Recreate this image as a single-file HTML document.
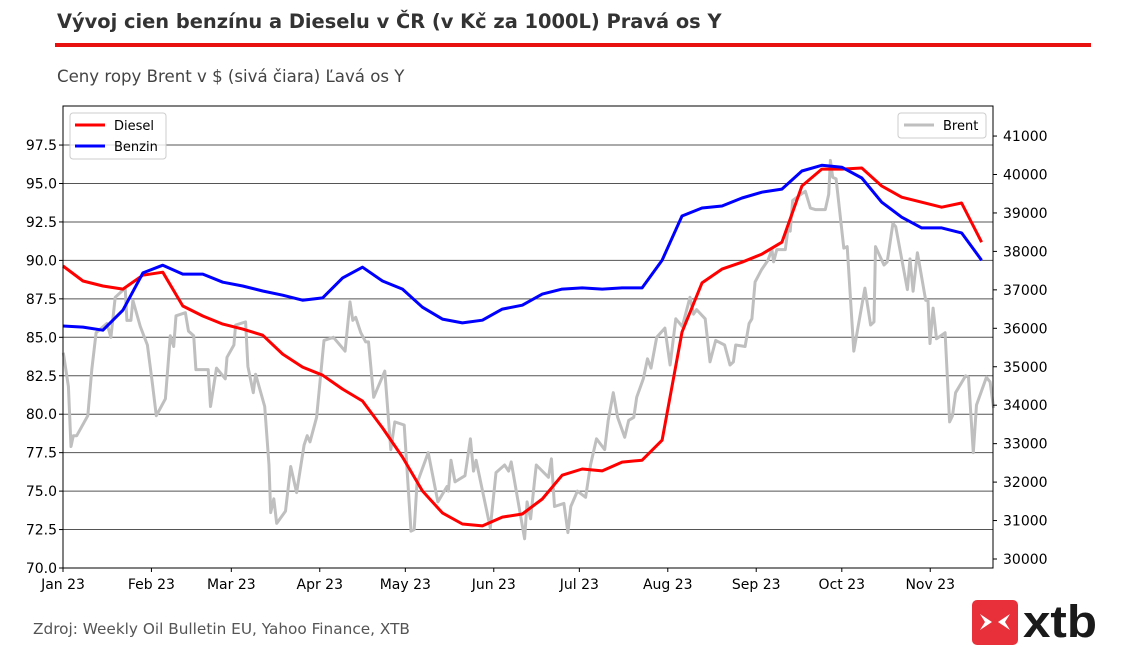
<!DOCTYPE html>
<html><head><meta charset="utf-8"><style>
body{margin:0;background:#fff;width:1125px;height:665px;overflow:hidden;font-family:"DejaVu Sans","Liberation Sans",sans-serif}
</style></head><body>
<svg width="1125" height="665" xmlns="http://www.w3.org/2000/svg" font-family="DejaVu Sans, Liberation Sans, sans-serif">
<text x="57" y="28" font-size="19.4" font-weight="bold" fill="#333">Vývoj cien benzínu a Dieselu v ČR (v Kč za 1000L) Pravá os Y</text>
<rect x="55" y="43" width="1036" height="4" fill="#e8110f"/>
<text x="57" y="82" font-size="16.6" fill="#444">Ceny ropy Brent v $ (sivá čiara) Ľavá os Y</text>
<g id="grid"></g>
<g id="series"></g>
<rect x="63" y="106" width="930" height="462" fill="none" stroke="#000" stroke-width="1"/>
<g id="axes"></g>
<g>
<rect x="70" y="113" width="96" height="46" rx="3" fill="#fff" fill-opacity="0.8" stroke="#ccc"/>
<line x1="75" y1="125" x2="105" y2="125" stroke="#f00" stroke-width="3"/>
<text x="114" y="130" font-size="13">Diesel</text>
<line x1="75" y1="146" x2="105" y2="146" stroke="#00f" stroke-width="3"/>
<text x="114" y="151" font-size="13">Benzin</text>
</g>
<g>
<rect x="898" y="113" width="88" height="25" rx="3" fill="#fff" fill-opacity="0.8" stroke="#ccc"/>
<line x1="904" y1="125" x2="934" y2="125" stroke="#bfbfbf" stroke-width="3"/>
<text x="943" y="130" font-size="13">Brent</text>
</g>
<text x="33" y="634" font-size="15.3" fill="#555">Zdroj: Weekly Oil Bulletin EU, Yahoo Finance, XTB</text>
<g>
<rect x="972" y="600" width="46" height="45" rx="5" fill="#e8303a"/>
<path d="M980 614 L992 622 L980 630 L985 622 Z M1010 614 L998 622 L1010 630 L1005 622 Z" fill="#fff"/>
<text x="1023" y="637" font-size="45" font-weight="bold" fill="#1a1a1a" font-family="Liberation Sans, sans-serif" textLength="74" lengthAdjust="spacingAndGlyphs">xtb</text>
</g>
</svg>
<script>
const monthLabels=["Jan 23","Feb 23","Mar 23","Apr 23","May 23","Jun 23","Jul 23","Aug 23","Sep 23","Oct 23","Nov 23"];
const monthDays=[0,31,59,90,120,151,181,212,243,273,304];
const leftTicks=[70,72.5,75,77.5,80,82.5,85,87.5,90,92.5,95,97.5];
const rightTicks=[30000,31000,32000,33000,34000,35000,36000,37000,38000,39000,40000,41000];
const dieselVals=[37620,37230,37100,37020,37380,37460,36580,36320,36110,35980,35820,35330,34990,34780,34420,34110,33410,32650,31770,31200,30910,30860,31090,31170,31560,32180,32340,32290,32520,32570,33090,35900,37180,37540,37720,37930,38240,39700,40140,40140,40170,39700,39410,39280,39150,39260,38240];
const benzinVals=[36060,36030,35950,36470,37440,37640,37410,37410,37200,37100,36970,36860,36730,36790,37310,37590,37230,37020,36550,36240,36140,36210,36500,36600,36890,37020,37050,37020,37050,37050,37770,38920,39130,39180,39390,39540,39620,40090,40240,40190,39910,39280,38890,38610,38610,38480,37770];
const brentDays=[0.1,1.9,2.8,3.6,4.8,8.7,10.1,11.6,15.4,16.8,18.3,21.8,22.4,23.8,24.5,27.1,29.6,31.2,32.7,35.9,37.6,38.8,39.6,42.9,44.0,45.8,46.6,50.9,51.7,53.8,56.9,57.5,59.9,60.5,64.0,64.8,66.7,67.5,70.7,72.2,72.8,73.9,74.9,78.0,79.8,81.9,84.5,85.6,86.6,88.9,91.5,94.8,98.9,100.6,101.6,102.6,104.4,106.1,107.1,108.9,112.8,114.9,116.3,119.6,122.0,123.1,124.1,128.0,131.4,134.6,135.1,136.0,137.4,140.9,142.8,143.9,144.8,149.8,151.8,154.8,156.2,157.1,161.8,162.7,163.9,165.3,165.9,170.2,171.2,172.3,175.6,177.0,178.0,180.3,183.2,184.9,187.0,189.9,191.1,192.9,194.4,196.9,198.3,200.1,201.1,203.4,204.9,206.1,208.1,211.0,212.8,214.8,217.1,219.8,221.0,222.1,225.1,226.8,228.8,231.9,233.8,235.0,235.8,239.1,240.5,241.5,242.6,244.9,247.1,248.5,249.1,250.2,253.2,254.1,254.9,255.8,260.2,262.0,263.7,267.2,268.4,269.0,269.8,271.0,273.7,274.9,277.2,281.1,283.1,284.3,284.8,287.8,288.9,290.9,291.9,296.0,296.9,298.0,299.5,302.4,303.2,303.9,305.0,306.2,309.2,310.8,311.8,312.9,316.4,317.4,319.1,320.2,323.7,325.0,326.2];
const brentVals=[84.0,81.8,77.9,78.6,78.6,79.9,82.9,85.3,85.9,85.0,87.6,88.2,86.1,86.1,87.4,85.7,84.5,82.2,79.9,81.0,85.1,84.4,86.4,86.6,85.4,85.1,82.9,82.9,80.5,83.0,82.3,83.7,84.5,85.8,86.0,83.1,81.4,82.6,80.5,76.7,73.6,74.5,72.9,73.7,76.6,74.9,78.0,78.6,78.2,79.8,84.8,85.0,84.1,87.3,86.1,86.3,85.3,84.7,84.7,81.1,82.8,77.7,79.5,79.3,72.4,72.5,75.5,77.5,74.3,75.3,75.0,77.0,75.6,76.0,78.4,76.3,77.0,72.6,76.2,76.7,76.3,76.9,71.9,74.3,73.2,75.7,76.7,75.9,77.1,74.0,74.2,72.3,74.0,75.0,74.6,76.7,78.4,77.7,79.6,81.4,79.8,78.5,79.6,79.8,81.1,82.3,83.6,83.0,85.0,85.6,83.2,86.2,85.7,87.6,86.5,86.8,86.2,83.4,84.8,84.5,83.2,83.4,84.5,84.4,85.9,86.2,88.6,89.4,90.0,90.7,89.9,90.7,90.7,92.0,91.9,93.9,94.5,93.4,93.3,93.3,94.3,96.5,95.4,95.3,90.8,90.9,84.1,88.2,85.8,86.0,90.9,89.7,89.9,92.4,92.2,88.1,90.1,88.0,90.5,87.4,87.4,84.6,86.9,84.9,85.3,79.5,79.9,81.4,82.5,82.4,77.5,80.6,82.4,82.1,80.4];
const X0=63,X1=993,Y0=106,Y1=568,DMAX=326;
const xS=d=>X0+d*(X1-X0)/DMAX;
const yL=v=>Y1-(v-70)*15.38;
const yR=v=>559-(v-30000)*0.03845;
const NS="http://www.w3.org/2000/svg";
function mk(tag,parent,attrs){const e=document.createElementNS(NS,tag);for(const k in attrs)e.setAttribute(k,attrs[k]);parent.appendChild(e);return e;}
const grid=document.getElementById('grid'),axes=document.getElementById('axes'),ser=document.getElementById('series');
leftTicks.forEach(v=>{
  if(v>70){const g=mk('line',grid,{x1:X0,x2:X1,y1:yL(v),y2:yL(v),stroke:'#555','stroke-width':1});
  
  }
  mk('line',axes,{x1:X0-4,x2:X0,y1:yL(v),y2:yL(v),stroke:'#000'});
  const t=mk('text',axes,{x:X0-6,y:yL(v)+5,'text-anchor':'end','font-size':14});
  t.textContent=v.toFixed(1);
  
  
});
rightTicks.forEach(v=>{
  mk('line',axes,{x1:X1,x2:X1+4,y1:yR(v),y2:yR(v),stroke:'#000'});
  const t=mk('text',axes,{x:X1+10,y:yR(v)+5,'font-size':14});
  t.textContent=v;
  
  
});
monthDays.forEach((d,i)=>{
  mk('line',axes,{x1:xS(d),x2:xS(d),y1:Y1,y2:Y1+4,stroke:'#000'});
  const t=mk('text',axes,{x:xS(d),y:Y1+21,'text-anchor':'middle','font-size':14});
  t.textContent=monthLabels[i];
  
  
});
const bp=brentDays.map((d,i)=>xS(d).toFixed(1)+','+yL(brentVals[i]).toFixed(1)).join(' ');
const b=mk('polyline',ser,{points:bp,fill:'none',stroke:'#bfbfbf','stroke-width':3,'stroke-linejoin':'round'});


const dp=dieselVals.map((v,i)=>xS(i*7).toFixed(1)+','+yR(v).toFixed(1)).join(' ');
const dl=mk('polyline',ser,{points:dp,fill:'none',stroke:'#f00','stroke-width':3,'stroke-linejoin':'round'});


const bzp=benzinVals.map((v,i)=>xS(i*7).toFixed(1)+','+yR(v).toFixed(1)).join(' ');
const bl=mk('polyline',ser,{points:bzp,fill:'none',stroke:'#00f','stroke-width':3,'stroke-linejoin':'round'});


</script>
</body></html>
